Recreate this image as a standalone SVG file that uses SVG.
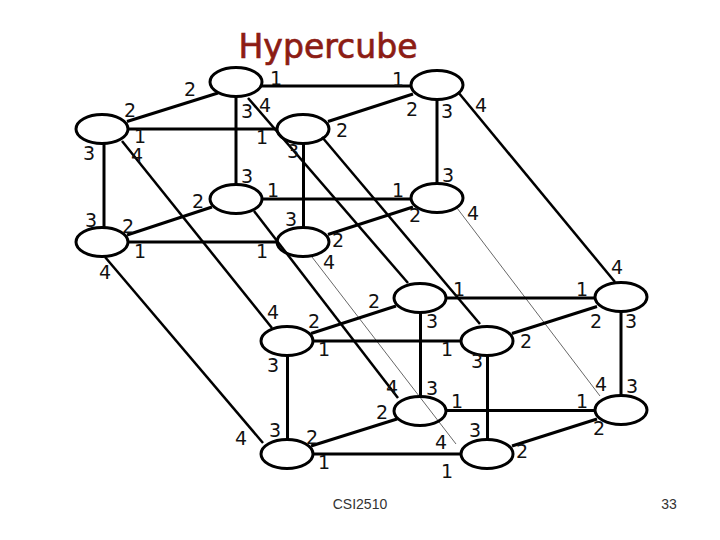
<svg xmlns="http://www.w3.org/2000/svg" width="720" height="540" viewBox="0 0 720 540">
<style>
.n{fill:#fff;stroke:#000;stroke-width:3}
.c line{stroke:#000;stroke-width:3;stroke-linecap:butt}
.c .d{stroke-width:2.5}
.c .t{stroke:#000;stroke-width:.6}
.l text{font-family:"DejaVu Sans",sans-serif;font-size:19px;fill:#111;text-anchor:middle}
.f{font-family:"Liberation Sans",Arial,sans-serif;font-size:14px;fill:#333;text-anchor:middle}
</style>
<rect width="720" height="540" fill="#fff"/>
<text x="328" y="58" font-family="'DejaVu Sans',sans-serif" font-size="34" fill="#8c1c14" stroke="#8c1c14" stroke-width=".7" text-anchor="middle" textLength="179" lengthAdjust="spacingAndGlyphs">Hypercube</text>
<g id="nodes">
<g id="n0"><ellipse class="n" cx="236" cy="82" rx="26" ry="14.5"/></g>
<g id="n1"><ellipse class="n" cx="102" cy="129" rx="26" ry="14.5"/></g>
<g id="n2"><ellipse class="n" cx="303" cy="129" rx="26" ry="14.5"/></g>
<g id="n3"><ellipse class="n" cx="437" cy="85" rx="26" ry="14.5"/></g>
<g id="n4"><ellipse class="n" cx="236" cy="199" rx="26" ry="14.5"/></g>
<g id="n5"><ellipse class="n" cx="102" cy="242" rx="26" ry="14.5"/></g>
<g id="n6"><ellipse class="n" cx="303" cy="242" rx="26" ry="14.5"/></g>
<g id="n7"><ellipse class="n" cx="437" cy="198" rx="26" ry="14.5"/></g>
<g id="n8"><ellipse class="n" cx="420" cy="298" rx="26" ry="14.5"/></g>
<g id="n9"><ellipse class="n" cx="287" cy="341" rx="26" ry="14.5"/></g>
<g id="n10"><ellipse class="n" cx="487" cy="341" rx="26" ry="14.5"/></g>
<g id="n11"><ellipse class="n" cx="621" cy="297" rx="26" ry="14.5"/></g>
<g id="n12"><ellipse class="n" cx="420" cy="411" rx="26" ry="14.5"/></g>
<g id="n13"><ellipse class="n" cx="287" cy="454" rx="26" ry="14.5"/></g>
<g id="n14"><ellipse class="n" cx="487" cy="454" rx="26" ry="14.5"/></g>
<g id="n15"><ellipse class="n" cx="621" cy="410" rx="26" ry="14.5"/></g>
</g>
<g id="connectors" class="c">
<line x1="261" y1="86" x2="412" y2="86"/>
<line x1="128" y1="129" x2="277" y2="129"/>
<line x1="261" y1="199" x2="412" y2="199"/>
<line x1="128" y1="242" x2="277" y2="242"/>
<line x1="127" y1="121.500" x2="218" y2="93"/>
<line x1="328" y1="121.500" x2="413" y2="94"/>
<line x1="127" y1="235" x2="212" y2="207"/>
<line x1="328" y1="234.500" x2="413" y2="207"/>
<line x1="236" y1="96" x2="236" y2="185"/>
<line x1="104" y1="144" x2="104" y2="228"/>
<line x1="303.500" y1="144" x2="303.500" y2="228"/>
<line x1="437" y1="100" x2="437" y2="184"/>
<line x1="313" y1="341" x2="461" y2="341"/>
<line x1="446" y1="298" x2="595" y2="298"/>
<line x1="313" y1="454" x2="461" y2="454"/>
<line x1="446" y1="410.500" x2="595" y2="410.500"/>
<line x1="311" y1="333.500" x2="396" y2="306"/>
<line x1="512" y1="333.500" x2="597" y2="306.500"/>
<line x1="311" y1="446" x2="397" y2="419"/>
<line x1="512" y1="446" x2="597" y2="419"/>
<line x1="287.500" y1="356" x2="287.500" y2="440"/>
<line x1="420.500" y1="313" x2="420.500" y2="396"/>
<line x1="487.500" y1="356" x2="487.500" y2="440"/>
<line x1="621" y1="312" x2="621" y2="396"/>
<line class="d" x1="248" y1="98" x2="408" y2="283"/>
<line class="d" x1="322" y1="137" x2="480" y2="324"/>
<line class="d" x1="122" y1="141" x2="272" y2="328"/>
<line class="d" x1="458" y1="92" x2="615" y2="282"/>
<line class="d" x1="105" y1="257" x2="263" y2="443"/>
<line class="d" x1="254" y1="211" x2="398" y2="398"/>
<line class="t" x1="312" y1="257" x2="456" y2="444"/>
<line class="t" x1="457" y1="208" x2="600" y2="396"/>
</g>
<g id="labels" class="l">
<text x="276" y="85">1</text><text x="398" y="86">1</text><text x="190" y="96">2</text><text x="130" y="117">2</text>
<text x="89" y="160">3</text><text x="140" y="143">1</text><text x="137" y="162">4</text><text x="247" y="118">3</text>
<text x="265" y="112">4</text><text x="262" y="144">1</text><text x="293" y="158">3</text><text x="342" y="137">2</text>
<text x="412" y="116">2</text><text x="447" y="118">3</text><text x="481" y="112">4</text><text x="247" y="183">3</text>
<text x="273" y="197">1</text><text x="198" y="208">2</text><text x="91" y="227">3</text><text x="128" y="233">2</text>
<text x="140" y="258">1</text><text x="105" y="279">4</text><text x="291" y="226">3</text><text x="262" y="258">1</text>
<text x="338" y="247">2</text><text x="329" y="269">4</text><text x="398" y="197">1</text><text x="448" y="182">3</text>
<text x="415" y="222">2</text><text x="473" y="220">4</text>
<text x="273" y="319">4</text><text x="314" y="328">2</text><text x="273" y="372">3</text><text x="324" y="356">1</text>
<text x="374" y="308">2</text><text x="432" y="328">3</text><text x="447" y="356">1</text><text x="459" y="296">1</text>
<text x="582" y="296">1</text><text x="617" y="274">4</text><text x="596" y="328">2</text><text x="631" y="328">3</text>
<text x="526" y="348">2</text><text x="477" y="368">3</text><text x="392" y="394">4</text><text x="432" y="395">3</text>
<text x="382" y="419">2</text><text x="457" y="408">1</text><text x="475" y="437">3</text><text x="441" y="449">4</text>
<text x="447" y="478">1</text><text x="522" y="458">2</text><text x="582" y="408">1</text><text x="601" y="391">4</text>
<text x="632" y="393">3</text><text x="599" y="435">2</text><text x="241" y="445">4</text><text x="275" y="437">3</text>
<text x="312" y="444">2</text><text x="324" y="469">1</text>
</g>
<text class="f" x="360" y="509">CSI2510</text>
<text class="f" x="669" y="509">33</text>
</svg>
